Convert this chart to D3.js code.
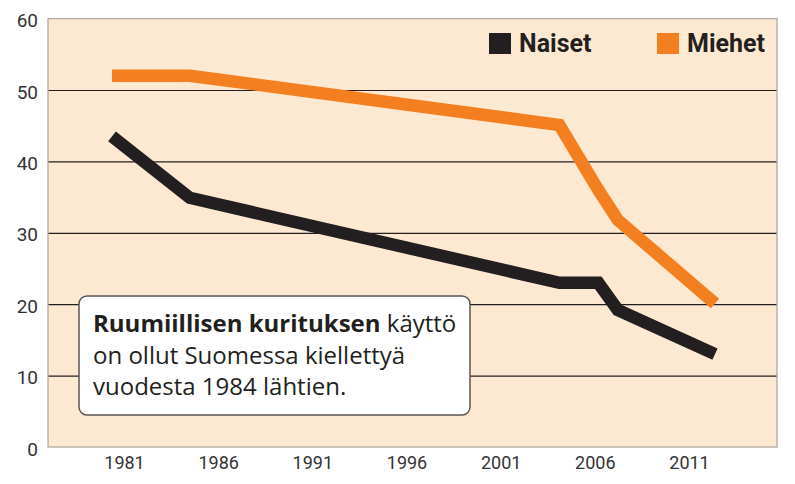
<!DOCTYPE html>
<html>
<head>
<meta charset="utf-8">
<script src="https://cdn.jsdelivr.net/npm/d3@7"></script>
<style>
  html, body { margin: 0; padding: 0; background: #fff; }
  svg { display: block; font-family: Roboto, sans-serif; }
</style>
</head>
<body>
<svg id="chart" width="795" height="484"></svg>
<script>
// survey years and share (%) per group
const years = [1981, 1985, 2004, 2006, 2007, 2012];
const naiset = [43.5, 34.9, 23.0, 23.0, 19.2, 13.0];
const miehet = [52.0, 52.0, 45.1, 36.0, 31.8, 20.1];

const tickYears = ['1981', '1986', '1991', '1996', '2001', '2006', '2011'];
const yTicks = [0, 10, 20, 30, 40, 50, 60];

const seriesNames = ['Naiset', 'Miehet'];
const seriesColors = ['#231f20', '#f47f20'];

const noteBold = 'Ruumiillisen kurituksen';
const noteLines = [' käyttö', 'on ollut Suomessa kiellettyä', 'vuodesta 1984 lähtien.'];

const margin = { top: 18.6, right: 18, bottom: 37, left: 48 };
const width = 795;
const height = 484;
const plotW = width - margin.left - margin.right;
const plotH = height - margin.top - margin.bottom;

const svg = d3.select('#chart');

const yScale = d3.scaleLinear().domain([0, 60]).range([margin.top + plotH, margin.top]);
const xScale = d3.scaleLinear().domain([1981, 2012]).range([112, 715]);
// the printed year labels sit on their own spacing
const labelScale = d3.scalePoint().domain(tickYears).range([124, 689]);

// plot background
svg.append('rect')
  .attr('x', margin.left)
  .attr('y', margin.top)
  .attr('width', plotW)
  .attr('height', plotH)
  .attr('fill', '#fde9d2');

// gridlines
const grid = svg.append('g')
  .attr('transform', `translate(${margin.left},0)`)
  .call(d3.axisLeft(yScale)
    .tickValues(yTicks.filter((t) => t > 0 && t < 60))
    .tickSize(-plotW)
    .tickFormat(''));
grid.select('.domain').remove();
grid.selectAll('.tick line')
  .attr('stroke', '#231f20')
  .attr('stroke-width', 1.2);

// frame
svg.append('rect')
  .attr('x', margin.left)
  .attr('y', margin.top)
  .attr('width', plotW)
  .attr('height', plotH)
  .attr('fill', 'none')
  .attr('stroke', '#b1a89f')
  .attr('stroke-width', 1.3);

// y axis labels
const yAxis = svg.append('g')
  .attr('transform', `translate(${margin.left},2)`)
  .call(d3.axisLeft(yScale).tickValues(yTicks).tickSize(0).tickPadding(10));
yAxis.select('.domain').remove();
yAxis.selectAll('.tick text')
  .attr('font-family', 'Roboto, sans-serif')
  .attr('font-size', 19)
  .attr('fill', '#333');

// x axis labels
const xAxis = svg.append('g')
  .attr('transform', `translate(0,${margin.top + plotH})`)
  .call(d3.axisBottom(labelScale).tickSize(0).tickPadding(9));
xAxis.select('.domain').remove();
xAxis.selectAll('.tick text')
  .attr('font-family', 'Roboto, sans-serif')
  .attr('font-size', 18)
  .attr('fill', '#333');

// lines
const line = d3.line()
  .x((d) => xScale(d[0]))
  .y((d) => yScale(d[1]));

[naiset, miehet].forEach((vals, i) => {
  svg.append('path')
    .datum(years.map((y, j) => [y, vals[j]]))
    .attr('d', line)
    .attr('fill', 'none')
    .attr('stroke', seriesColors[i])
    .attr('stroke-width', 12.5)
    .attr('stroke-linejoin', 'miter')
    .attr('stroke-linecap', 'butt');
});

// legend
const legendX = [489, 657];
const legend = svg.append('g');
seriesNames.forEach((name, i) => {
  legend.append('rect')
    .attr('x', legendX[i])
    .attr('y', 33)
    .attr('width', 22)
    .attr('height', 21)
    .attr('fill', seriesColors[i]);
  legend.append('text')
    .attr('x', legendX[i] + 30)
    .attr('y', 52)
    .attr('font-size', 25)
    .attr('font-weight', 700)
    .attr('fill', '#231f20')
    .text(name);
});

// note box
svg.append('rect')
  .attr('x', 79)
  .attr('y', 296)
  .attr('width', 391)
  .attr('height', 119)
  .attr('rx', 8)
  .attr('fill', '#fff')
  .attr('stroke', '#5a5553')
  .attr('stroke-width', 1.5);

const note = svg.append('text')
  .attr('x', 93)
  .attr('y', 332)
  .attr('font-family', '"Open Sans", sans-serif')
  .attr('font-size', 24)
  .attr('fill', '#231f20');
note.append('tspan').attr('font-weight', 700).text(noteBold);
note.append('tspan').text(noteLines[0]);
note.append('tspan').attr('x', 93).attr('dy', 31.5).text(noteLines[1]);
note.append('tspan').attr('x', 93).attr('dy', 31.5).text(noteLines[2]);
</script>
</body>
</html>
